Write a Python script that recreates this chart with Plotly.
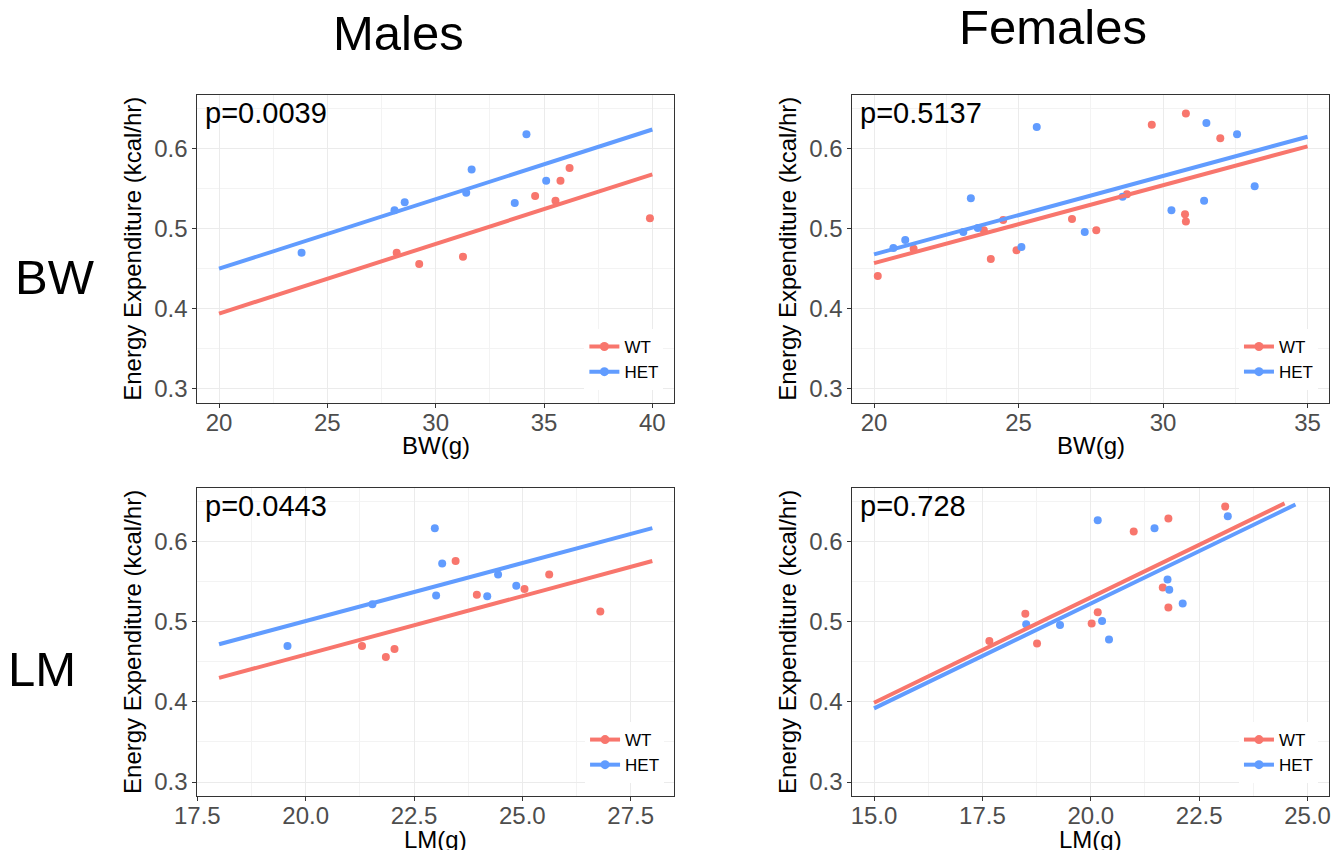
import plotly.graph_objects as go
from plotly.subplots import make_subplots

groups = ['WT', 'HET']
colors = ['#F8766D', '#619CFF']

# Males, energy expenditure vs body weight
m_bw_wt_x = [28.2, 29.24, 31.26, 34.59, 35.53, 35.76, 36.18, 39.89]
m_bw_wt_y = [0.470, 0.456, 0.465, 0.541, 0.535, 0.560, 0.576, 0.513]
m_bw_het_x = [23.81, 28.1, 28.57, 31.41, 31.66, 33.65, 34.19, 35.1]
m_bw_het_y = [0.470, 0.523, 0.533, 0.545, 0.574, 0.532, 0.618, 0.560]

# Females, energy expenditure vs body weight
f_bw_wt_x = [20.13, 21.37, 23.8, 24.04, 24.47, 24.93, 26.85, 27.69, 28.75, 29.61, 30.79, 30.76, 30.79, 31.98]
f_bw_wt_y = [0.441, 0.475, 0.498, 0.462, 0.511, 0.473, 0.512, 0.498, 0.543, 0.630, 0.644, 0.518, 0.509, 0.613]
f_bw_het_x = [20.67, 21.08, 23.09, 23.35, 23.59, 25.1, 25.63, 27.29, 28.6, 30.29, 31.42, 31.5, 32.56, 33.17]
f_bw_het_y = [0.476, 0.486, 0.496, 0.538, 0.501, 0.477, 0.627, 0.496, 0.540, 0.523, 0.535, 0.632, 0.618, 0.553]

# Males, energy expenditure vs lean mass
m_lm_wt_x = [21.3, 21.85, 22.05, 23.46, 23.95, 25.05, 25.62, 26.8]
m_lm_wt_y = [0.470, 0.456, 0.466, 0.576, 0.534, 0.541, 0.559, 0.513]
m_lm_het_x = [19.58, 21.54, 22.98, 23.01, 23.15, 24.19, 24.44, 24.86]
m_lm_het_y = [0.470, 0.522, 0.617, 0.533, 0.573, 0.532, 0.559, 0.545]

# Females, energy expenditure vs lean mass
f_lm_wt_x = [17.66, 18.49, 18.76, 20.02, 20.16, 20.99, 21.66, 21.79, 21.79, 23.1]
f_lm_wt_y = [0.476, 0.510, 0.473, 0.498, 0.512, 0.613, 0.543, 0.629, 0.518, 0.644]
f_lm_het_x = [18.51, 19.29, 20.16, 20.26, 20.42, 21.47, 21.77, 21.81, 22.12, 23.16]
f_lm_het_y = [0.497, 0.496, 0.627, 0.501, 0.478, 0.617, 0.553, 0.540, 0.523, 0.632]

# fitted lines (ANCOVA)
m_bw_fit_x = [20, 40]
m_bw_fit_wt = [0.394, 0.568]
m_bw_fit_het = [0.450, 0.624]
f_bw_fit_x = [20, 35]
f_bw_fit_wt = [0.457, 0.603]
f_bw_fit_het = [0.468, 0.615]
m_lm_fit_x = [18, 28]
m_lm_fit_wt = [0.430, 0.576]
m_lm_fit_het = [0.472, 0.617]
f_lm_fit_wt_x = [15, 24.47]
f_lm_fit_wt = [0.399, 0.648]
f_lm_fit_het_x = [15, 24.72]
f_lm_fit_het = [0.392, 0.6465]

p_values = ['p=0.0039', 'p=0.5137', 'p=0.0443', 'p=0.728']

panels = [
    dict(row=1, col=1, pts=[(m_bw_wt_x, m_bw_wt_y), (m_bw_het_x, m_bw_het_y)],
         fit=[(m_bw_fit_x, m_bw_fit_wt), (m_bw_fit_x, m_bw_fit_het)],
         xrange=[19, 41], dtick=5, tick0=20, fmt='d', xtitle='BW(g)'),
    dict(row=1, col=2, pts=[(f_bw_wt_x, f_bw_wt_y), (f_bw_het_x, f_bw_het_y)],
         fit=[(f_bw_fit_x, f_bw_fit_wt), (f_bw_fit_x, f_bw_fit_het)],
         xrange=[19.25, 35.75], dtick=5, tick0=20, fmt='d', xtitle='BW(g)'),
    dict(row=2, col=1, pts=[(m_lm_wt_x, m_lm_wt_y), (m_lm_het_x, m_lm_het_y)],
         fit=[(m_lm_fit_x, m_lm_fit_wt), (m_lm_fit_x, m_lm_fit_het)],
         xrange=[17.5, 28.5], dtick=2.5, tick0=17.5, fmt='.1f', xtitle='LM(g)'),
    dict(row=2, col=2, pts=[(f_lm_wt_x, f_lm_wt_y), (f_lm_het_x, f_lm_het_y)],
         fit=[(f_lm_fit_wt_x, f_lm_fit_wt), (f_lm_fit_het_x, f_lm_fit_het)],
         xrange=[14.5, 25.5], dtick=2.5, tick0=15, fmt='.1f', xtitle='LM(g)'),
]

# the page puts the figure 8px in from the top-left corner
x_domains = [[0.1410, 0.4959], [0.6287, 0.9838]]
y_domains = [[0.5356, 0.8980], [0.0729, 0.4356]]
legend_pos = [(0.488, 0.5865), (0.9754, 0.5865), (0.4885, 0.1241), (0.9754, 0.1241)]
legend_names = ['legend', 'legend2', 'legend3', 'legend4']

font_family = 'Liberation Sans, Arial, sans-serif'

fig = make_subplots(rows=2, cols=2)

for i, p in enumerate(panels):
    r, c = p['row'], p['col']
    for g, (xs, ys) in enumerate(p['pts']):
        fig.add_trace(go.Scatter(x=xs, y=ys, mode='markers', showlegend=False,
                                 marker=dict(color=colors[g], size=8), name=groups[g]), r, c)
    for g, (xs, ys) in enumerate(p['fit']):
        fig.add_trace(go.Scatter(x=xs, y=ys, mode='lines', showlegend=False,
                                 line=dict(color=colors[g], width=4), name=groups[g]), r, c)
    # legend keys
    for g in range(2):
        fig.add_trace(go.Scatter(x=[None], y=[None], mode='lines+markers', name=groups[g],
                                 legend=legend_names[i],
                                 line=dict(color=colors[g], width=4),
                                 marker=dict(color=colors[g], size=9)), r, c)

    ax = '' if i == 0 else str(i + 1)
    fig.update_xaxes(row=r, col=c, domain=x_domains[c - 1], range=p['xrange'],
                     tick0=p['tick0'], dtick=p['dtick'], tickformat=p['fmt'],
                     minor=dict(dtick=p['dtick'] / 2, tick0=p['tick0'], showgrid=True,
                                gridcolor='#F3F3F3', gridwidth=0.8, ticklen=0))
    fig.update_yaxes(row=r, col=c, domain=y_domains[r - 1], range=[0.2825, 0.6675],
                     tick0=0.3, dtick=0.1, tickformat='.1f',
                     title=dict(text='Energy Expenditure (kcal/hr)', standoff=5,
                                font=dict(size=24, color='black')),
                     minor=dict(dtick=0.05, tick0=0.3, showgrid=True,
                                gridcolor='#F3F3F3', gridwidth=0.8, ticklen=0))

    fig.add_annotation(text=p_values[i], xref='x' + ax + ' domain', yref='y' + ax + ' domain',
                       x=0.012, y=0.998, xanchor='left', yanchor='top', showarrow=False,
                       font=dict(size=29, color='black'))
    # x axis title, set close under the tick labels as in the original
    fig.add_annotation(text=p['xtitle'], xref='x' + ax + ' domain', yref='y' + ax + ' domain',
                       x=0.5, y=0, yshift=-43, xanchor='center', yanchor='middle',
                       showarrow=False, font=dict(size=24, color='black'))

fig.update_xaxes(showline=True, mirror=True, linecolor='#333333', linewidth=1,
                 showgrid=True, gridcolor='#EBEBEB', gridwidth=1.2, zeroline=False,
                 ticks='outside', ticklen=4, tickcolor='#333333', ticklabelstandoff=-6,
                 tickfont=dict(size=24, color='#4D4D4D'), automargin=False)
fig.update_yaxes(showline=True, mirror=True, linecolor='#333333', linewidth=1,
                 showgrid=True, gridcolor='#EBEBEB', gridwidth=1.2, zeroline=False,
                 ticks='outside', ticklen=4, tickcolor='#333333',
                 tickfont=dict(size=24, color='#4D4D4D'), automargin=False)

legends = {}
for i, name in enumerate(legend_names):
    legends[name] = dict(x=legend_pos[i][0], y=legend_pos[i][1], xanchor='right', yanchor='middle',
                         bgcolor='white', font=dict(size=17, color='black'),
                         itemwidth=30, tracegroupgap=0)

fig.add_annotation(text='Males', x=0.2904, y=0.9706, xref='paper', yref='paper',
                   xanchor='center', yanchor='middle',
                   showarrow=False, font=dict(size=49, color='black'))
fig.add_annotation(text='Females', x=0.7781, y=0.9776, xref='paper', yref='paper',
                   xanchor='center', yanchor='middle',
                   showarrow=False, font=dict(size=49, color='black'))
fig.add_annotation(text='BW', x=0.035, y=0.6835, xref='paper', yref='paper',
                   xanchor='center', yanchor='middle',
                   showarrow=False, font=dict(size=49, color='black'))
fig.add_annotation(text='LM', x=0.0253, y=0.2224, xref='paper', yref='paper',
                   xanchor='center', yanchor='middle',
                   showarrow=False, font=dict(size=49, color='black'))

fig.update_layout(
    width=1343, height=850,
    margin=dict(l=0, r=0, t=0, b=0),
    paper_bgcolor='white', plot_bgcolor='white',
    font=dict(family=font_family, color='black'),
    **legends
)

fig.write_html("out.html")
